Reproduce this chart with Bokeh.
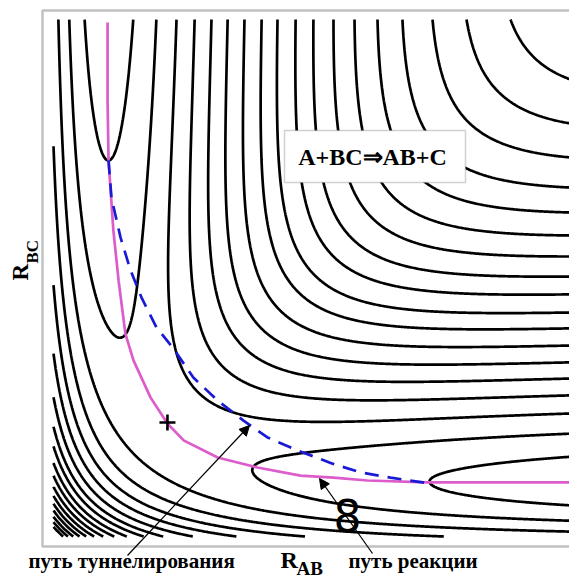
import numpy as np
import contourpy
from bokeh.plotting import figure
from bokeh.models import (Range1d, Label, Arrow, NormalHead,
                          BoxAnnotation, ColumnDataSource)
from bokeh.embed import file_html
from bokeh.resources import INLINE

# ---------------- data: LEPS surface (A + BC, H3-like) ----------------
D_EV = 4.746      # well depth, eV
ALPHA = 1.942     # Morse (singlet) range parameter, 1/Angstrom
BETA = 1.65       # anti-Morse (triplet) range parameter, 1/Angstrom
R_EQ = 0.7417     # equilibrium bond length, Angstrom
SATO = 0.1765     # Sato parameter
GRID_MIN = 0.578  # plotted window of the surface, Angstrom
GRID_MAX = 2.175

# points (R_AB, R_BC), one on each contour line
TIP_RAB = [0.745, 0.800]          # bottoms of the two closed valleys
TIP_RBC = [1.740, 1.202]
TOP_EDGE_RAB = [0.958, 1.014, 1.066, 1.116, 1.168, 1.221, 1.270, 1.326,
                1.381, 1.443, 1.508, 1.579, 1.656, 1.749, 1.854, 1.990]
TOP_EDGE_RBC = GRID_MAX
# extra, higher levels seen only in the compressed corner (fraction of D)
CORNER_LEVEL_FRACTIONS = [0.92, 0.97, 1.02]

# saddle point ("+")
SADDLE_RAB = [0.930]
SADDLE_RBC = [0.930]

# minimum energy path (reaction path), Angstrom
PATH_RAB = [0.745, 0.745, 0.748, 0.763, 0.779, 0.800, 0.825, 0.878, 0.930,
            0.980, 1.085, 1.208, 1.341, 1.443, 1.548, 1.733, 2.172]
PATH_RBC = [2.166, 1.925, 1.740, 1.523, 1.369, 1.205, 1.122, 1.007, 0.927,
            0.875, 0.822, 0.791, 0.766, 0.760, 0.751, 0.745, 0.745]

# tunnelling path, Angstrom
TUNNEL_RAB = [0.748, 0.757, 0.785, 0.816, 0.850, 0.896, 0.946, 1.010, 1.085,
              1.165, 1.239, 1.332, 1.440, 1.526, 1.619, 1.718, 1.736]
TUNNEL_RBC = [1.740, 1.625, 1.502, 1.400, 1.316, 1.224, 1.162, 1.069, 0.998,
              0.936, 0.884, 0.844, 0.803, 0.776, 0.760, 0.745, 0.742]

TITLE_TEXT = "A+BC\u21d2AB+C"
TUNNEL_TEXT = "путь туннелирования"
PATH_TEXT = "путь реакции"

K_SATO = (1.0 - SATO) / (2.0 * (1.0 + SATO))


def qj(r):
    x = r - R_EQ
    singlet = D_EV * (np.exp(-2 * ALPHA * x) - 2 * np.exp(-ALPHA * x))
    triplet = K_SATO * D_EV * (np.exp(-2 * BETA * x) + 2 * np.exp(-BETA * x))
    return 0.5 * (singlet + triplet), 0.5 * (singlet - triplet)


def leps(rab, rbc):
    rab = np.asarray(rab, dtype=float)
    rbc = np.asarray(rbc, dtype=float)
    q1, j1 = qj(rab)
    q2, j2 = qj(rbc)
    q3, j3 = qj(rab + rbc)
    s = j1 ** 2 + j2 ** 2 + j3 ** 2 - j1 * j2 - j2 * j3 - j1 * j3
    return q1 + q2 + q3 - np.sqrt(np.maximum(s, 0.0))


grid = np.linspace(GRID_MIN, GRID_MAX, 500)
GX, GY = np.meshgrid(grid, grid)
Z = leps(GX, GY)

levels = list(leps(TIP_RAB, TIP_RBC))
levels += list(leps(TOP_EDGE_RAB, [TOP_EDGE_RBC] * len(TOP_EDGE_RAB)))
top_level = max(levels)
levels += [D_EV * (f - 1.0) for f in CORNER_LEVEL_FRACTIONS
           if D_EV * (f - 1.0) > top_level + 0.1]

cg = contourpy.contour_generator(grid, grid, Z, line_type="Separate")
cxs, cys = [], []
for lev in levels:
    for seg in cg.lines(float(lev)):
        if len(seg) > 1:
            cxs.append(seg[:, 0].tolist())
            cys.append(seg[:, 1].tolist())

# ---------------- layout helpers (canvas pixels -> data) ----------------
W, H = 569, 579
PX_PER_A = 323.67


def sx(px):
    return R_EQ + (px - 106.0) / PX_PER_A


def sy(py):
    return R_EQ + (483.0 - py) / PX_PER_A


p = figure(width=W, height=H, output_backend="svg", toolbar_location=None,
           x_axis_location=None, y_axis_location=None,
           x_range=Range1d(sx(0), sx(W)), y_range=Range1d(sy(H), sy(0)),
           min_border_left=0, min_border_right=0, min_border_top=0,
           min_border_bottom=0)
p.outline_line_color = None
p.xgrid.visible = False
p.ygrid.visible = False
p.background_fill_color = "white"
p.border_fill_color = "white"

p.multi_line(xs="xs", ys="ys", source=ColumnDataSource(dict(xs=cxs, ys=cys)),
             line_color="black", line_width=2.7)

p.line(PATH_RAB, PATH_RBC, line_color="#dd5ccc", line_width=2.7)
p.line(TUNNEL_RAB, TUNNEL_RBC, line_color="#1a1ad6", line_width=2.7,
       line_dash="14 9")
p.scatter(SADDLE_RAB, SADDLE_RBC, marker="cross", size=16, line_width=2.6,
          color="black")

# plot frame (its right side lies outside the picture)
p.add_layout(BoxAnnotation(left=sx(42), right=sx(590), top=sy(10),
                           bottom=sy(546), fill_alpha=0.0,
                           line_color="#333333", line_width=2.5))

SERIF_MID = 0.3375   # em-box middle above the baseline, Liberation Serif
SANS_MID = 0.346     # same for DejaVu Sans


def text(t, px, base_py, size, font="Liberation Serif", bold=True,
         align="left", mid=SERIF_MID):
    p.add_layout(Label(x=sx(px), y=sy(base_py - mid * size), text=t,
                       text_align=align, text_baseline="middle",
                       text_font=font,
                       text_font_style="bold" if bold else "normal",
                       text_font_size=f"{size}px", text_color="black"))


def vtext(t, base_px, start_py, size):
    p.add_layout(Label(x=sx(base_px - SERIF_MID * size), y=sy(start_py),
                       text=t, angle=np.pi / 2, text_align="left",
                       text_baseline="middle", text_font="Liberation Serif",
                       text_font_style="bold", text_font_size=f"{size}px",
                       text_color="black"))


p.add_layout(BoxAnnotation(left=sx(284), right=sx(465), top=sy(130),
                           bottom=sy(182), fill_color="white", fill_alpha=1.0,
                           line_color="#666666", line_width=1.5))
text(TITLE_TEXT, 372, 165, 24, align="center")

text("8", 347, 530, 44, font="DejaVu Sans", bold=False, align="center",
     mid=SANS_MID)

# arrows
p.add_layout(Arrow(x_start=sx(127), y_start=sy(555), x_end=sx(249),
                   y_end=sy(425), line_width=1.2, line_color="black",
                   end=NormalHead(size=10, line_color="black",
                                  fill_color="black", line_width=1)))
p.add_layout(Arrow(x_start=sx(372), y_start=sy(553), x_end=sx(319),
                   y_end=sy(478), line_width=1.2, line_color="black",
                   end=NormalHead(size=10, line_color="black",
                                  fill_color="black", line_width=1)))

# bottom texts
text(TUNNEL_TEXT, 28, 568, 21)
text(PATH_TEXT, 348, 568, 21)
text("R", 280, 568, 24)
text("AB", 296, 574, 19)

# left axis label
vtext("R", 28, 280, 23)
vtext("BC", 38, 263, 17)

open("out.html", "w").write(file_html(p, INLINE))
